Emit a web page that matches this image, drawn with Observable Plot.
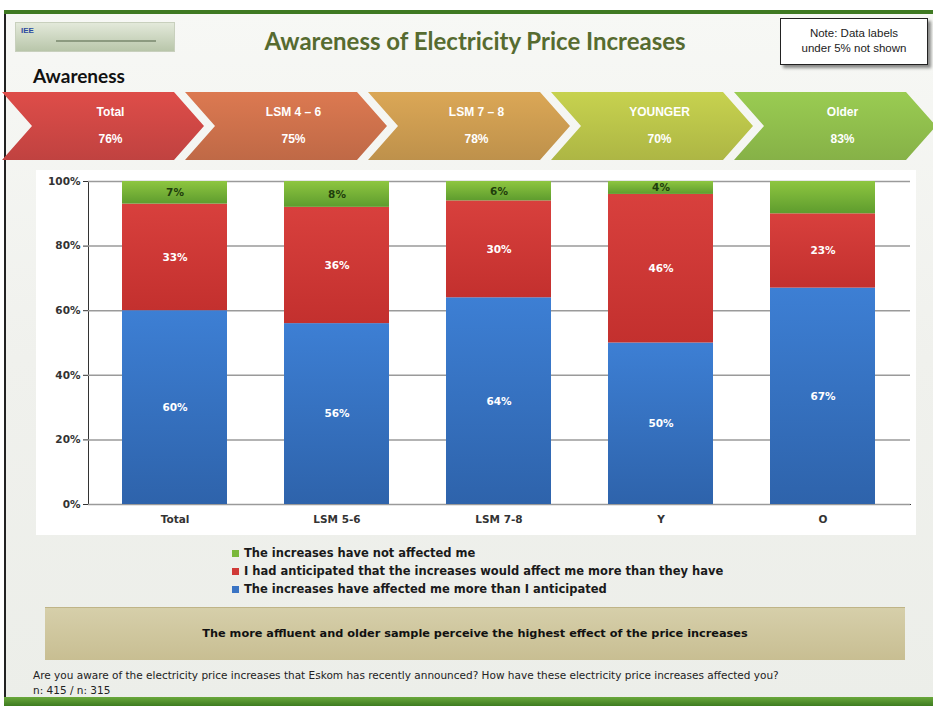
<!DOCTYPE html>
<html><head><meta charset="utf-8">
<script src="https://cdn.jsdelivr.net/npm/d3@7"></script>
<script src="https://cdn.jsdelivr.net/npm/@observablehq/plot@0.6"></script>
<style>
html,body{margin:0;padding:0;background:#fff;}
#page{position:relative;width:933px;height:706px;overflow:hidden;background:#fff;font-family:"DejaVu Sans",sans-serif;}
#slide{position:absolute;left:4px;top:10px;width:929px;height:696px;background:linear-gradient(180deg,#f7f8f5 0%,#f0f1ed 50%,#eceee9 100%);border-left:2px solid #222;box-sizing:border-box;}
#topbar{position:absolute;left:4px;top:10px;width:929px;height:4px;background:#3f7a22;}
#botbar{position:absolute;left:4px;top:697px;width:929px;height:9px;background:linear-gradient(180deg,#6aa83c,#3e7c20);}
#logo{position:absolute;left:15px;top:22px;width:160px;height:30px;background:linear-gradient(180deg,#e3e9da,#b9c6aa);border:1px solid #c8d0bd;box-sizing:border-box;}
#logo .iee{position:absolute;left:5px;top:3px;font:bold 8px "Liberation Sans";color:#2c4aa0;}
#logo .line{position:absolute;left:40px;top:17px;width:100px;height:2px;background:#8c9a80;}
#title{position:absolute;left:160px;width:630px;top:26px;text-align:center;font:700 24px Lato,"Open Sans",sans-serif;color:#566b30;}
#note{position:absolute;left:780px;top:18px;width:148px;height:47px;border:1.5px solid #222;background:#fff;box-sizing:border-box;box-shadow:3px 3px 3px rgba(0,0,0,0.45);text-align:center;font:11.5px "Liberation Sans",Arial,sans-serif;color:#222;line-height:15px;padding-top:7px;}
#aw{position:absolute;left:33px;top:64px;font:700 19px Lato,sans-serif;color:#111;}
#chev{position:absolute;left:0;top:92px;width:933px;height:68px;}
.cv{position:absolute;top:0;height:68px;color:#fff;font:bold 12px "Liberation Sans",Arial,sans-serif;text-align:center;}
.cv .t{position:absolute;left:0;right:0;top:13px;}
.cv .v{position:absolute;left:0;right:0;top:40px;}
#chart{position:absolute;left:36px;top:170px;}
#legend{position:absolute;left:232px;top:544px;font:bold 11.5px "DejaVu Sans",sans-serif;color:#1a1a1a;line-height:18px;}
#legend .sw{display:inline-block;width:7px;height:7px;margin-right:5px;vertical-align:0px;}
#box{position:absolute;left:45px;top:607px;width:860px;height:53px;background:linear-gradient(180deg,#d6cfaa,#c8be92);border-top:1px solid #bfb487;box-sizing:border-box;text-align:center;font:bold 11.3px "DejaVu Sans",sans-serif;color:#111;line-height:51px;}
#foot{position:absolute;left:33px;top:668px;font:10.5px "DejaVu Sans",sans-serif;color:#222;line-height:15px;}
</style></head>
<body>
<svg width="0" height="0" style="position:absolute">
  <defs>
    <linearGradient id="gBlue" x1="0" y1="0" x2="0" y2="1"><stop offset="0" stop-color="#3d7fd4"/><stop offset="1" stop-color="#2e63ab"/></linearGradient>
    <linearGradient id="gRed" x1="0" y1="0" x2="0" y2="1"><stop offset="0" stop-color="#d8403d"/><stop offset="1" stop-color="#c3302e"/></linearGradient>
    <linearGradient id="gGreen" x1="0" y1="0" x2="0" y2="1"><stop offset="0" stop-color="#8ec640"/><stop offset="1" stop-color="#5e9c2e"/></linearGradient>
  </defs>
</svg>
<div id="page">
  <div id="slide"></div>
  <div id="topbar"></div>
  <div id="botbar"></div>
  <div id="logo"><span class="iee">IEE</span><span class="line"></span></div>
  <div id="title">Awareness of Electricity Price Increases</div>
  <div id="note">Note: Data labels<br>under 5% not shown</div>
  <div id="aw">Awareness</div>
  <div id="chev"></div>
  <div id="chart"></div>
  <div id="legend"></div>
  <div id="box">The more affluent and older sample perceive the highest effect of the price increases</div>
  <div id="foot">Are you aware of the electricity price increases that Eskom has recently announced? How have these electricity price increases affected you?<br>n: 415 / n: 315</div>
</div>
<script>
// ---- data ----
const categories = ["Total", "LSM 5-6", "LSM 7-8", "Y", "O"];
const seriesNames = [
  "The increases have affected me more than I anticipated",
  "I had anticipated that the increases would affect me more than they have",
  "The increases have not affected me"
];
const affectedMore = [60, 56, 64, 50, 67];
const anticipated = [33, 36, 30, 46, 23];
const notAffected = [7, 8, 6, 4, 10];
const notAffectedLabels = ["7%", "8%", "6%", "4%", ""];
const seriesFills = ["url(#gBlue)", "url(#gRed)", "url(#gGreen)"];
const legendSwatches = ["#3a74c4", "#d03a37", "#7ab83a"];

const chevronLabels = ["Total", "LSM 4 – 6", "LSM 7 – 8", "YOUNGER", "Older"];
const chevronValues = ["76%", "75%", "78%", "70%", "83%"];
const chevronColors = ["#cb4643", "#c96f4a", "#c8994f", "#b6c048", "#8dbb4b"];
const yTicks = [0, 20, 40, 60, 80, 100];

// ---- chevrons ----
const chev = document.getElementById("chev");
chevronLabels.forEach((lab, i) => {
  const d = document.createElement("div");
  d.className = "cv";
  const x0 = 2 + i * 183, w = 202, dep = 30;
  d.style.left = x0 + "px";
  d.style.width = w + "px";
  d.style.background = `linear-gradient(180deg, ${d3.color(chevronColors[i]).brighter(0.25)}, ${d3.color(chevronColors[i]).darker(0.15)})`;
  d.style.clipPath = `polygon(0 0, ${w - dep}px 0, ${w}px 34px, ${w - dep}px 68px, 0 68px, ${dep}px 34px)`;
  d.innerHTML = `<div class="t" style="padding-left:${dep / 2}px">${lab}</div><div class="v" style="padding-left:${dep / 2}px">${chevronValues[i]}</div>`;
  chev.appendChild(d);
});

// ---- chart table ----
const rows = [];
categories.forEach((c, i) => {
  rows.push({cat: c, series: seriesNames[0], value: affectedMore[i], label: affectedMore[i] + "%", dark: false});
  rows.push({cat: c, series: seriesNames[1], value: anticipated[i], label: anticipated[i] + "%", dark: false});
  rows.push({cat: c, series: seriesNames[2], value: notAffected[i], label: notAffectedLabels[i], dark: true});
});

const chart = Plot.plot({
  width: 880,
  height: 365,
  marginLeft: 52,
  marginRight: 6,
  marginTop: 11,
  marginBottom: 31,
  style: {background: "#fff", fontFamily: "DejaVu Sans, sans-serif", fontSize: "10.5px", fontWeight: "bold", color: "#333"},
  x: {domain: categories, paddingInner: 0.35, paddingOuter: 0.21, label: null, tickSize: 0, tickPadding: 11, line: true},
  y: {domain: [0, 100], ticks: yTicks, tickFormat: d => d + "%", label: null, tickSize: 5, tickPadding: 3, line: true},
  color: {domain: seriesNames, range: seriesFills},
  marks: [
    Plot.ruleY(yTicks, {stroke: "#9a9a9a", strokeWidth: 1.5}),
    Plot.barY(rows, {x: "cat", y: "value", fill: "series", order: seriesNames}),
    Plot.text(rows.filter(d => !d.dark), Plot.stackY({x: "cat", y: "value", z: "series", text: "label", fill: "#fff", fontSize: 10.5, fontWeight: "bold"})),
    Plot.text(rows, Plot.stackY({x: "cat", y: "value", z: "series", text: d => d.dark ? d.label : "", fill: "#1f3d0c", fontSize: 10.5, fontWeight: "bold"}))
  ]
});
document.getElementById("chart").appendChild(chart);

// ---- legend (top to bottom: green, red, blue) ----
const lg = document.getElementById("legend");
[2, 1, 0].forEach(i => {
  const r = document.createElement("div");
  r.innerHTML = `<span class="sw" style="background:${legendSwatches[i]}"></span>${seriesNames[i]}`;
  lg.appendChild(r);
});
</script>
</body></html>
